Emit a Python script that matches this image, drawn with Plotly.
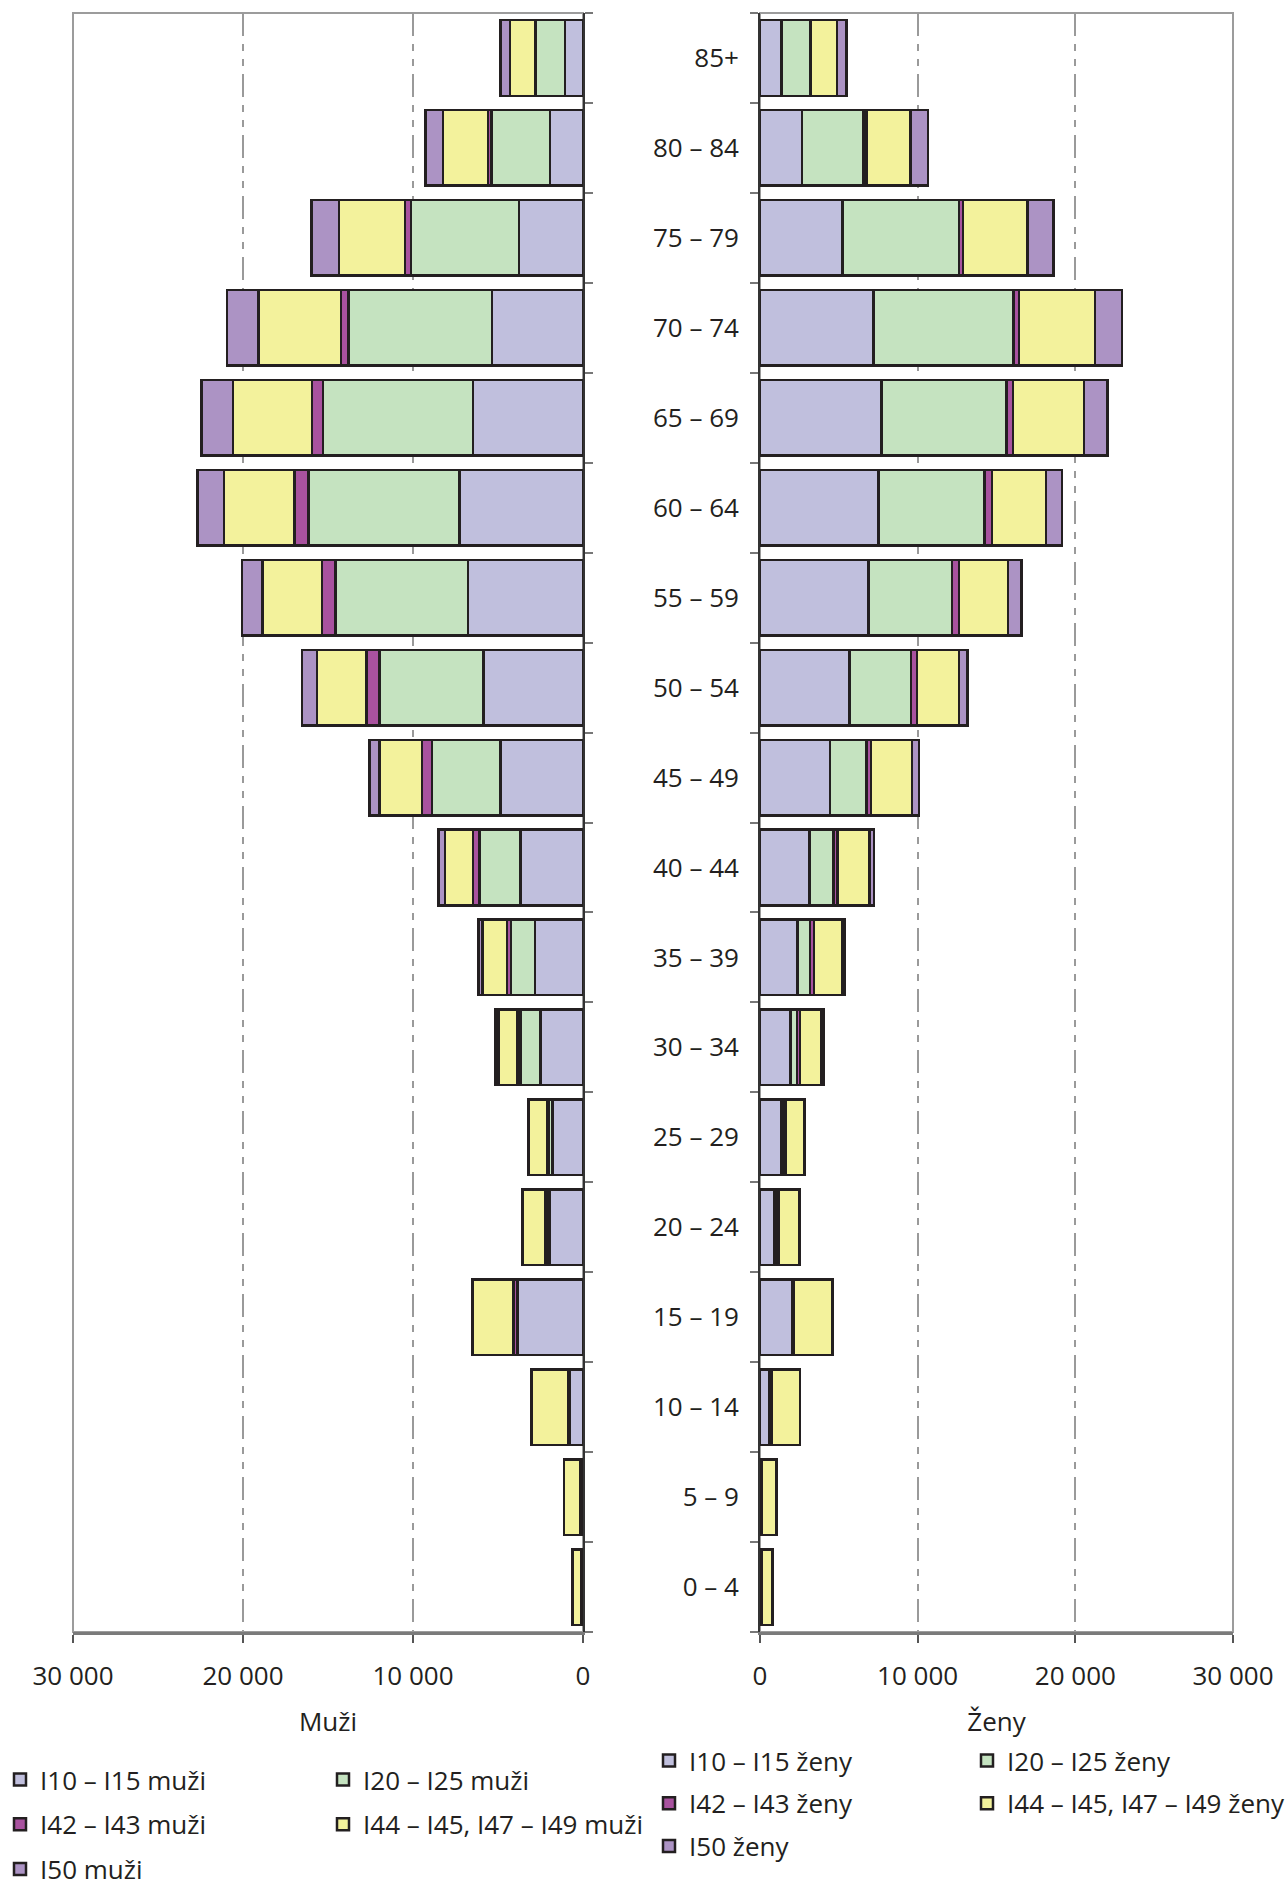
import plotly.graph_objects as go

ages = ["0 – 4", "5 – 9", "10 – 14", "15 – 19", "20 – 24", "25 – 29", "30 – 34",
        "35 – 39", "40 – 44", "45 – 49", "50 – 54", "55 – 59", "60 – 64", "65 – 69",
        "70 – 74", "75 – 79", "80 – 84", "85+"]

# Muži (men)
m_i10 = [100, 100, 800, 3860, 1980, 1790, 2490, 2820, 3690, 4850, 5840, 6760, 7260, 6470, 5360, 3760, 1950, 1060]
m_i20 = [10, 10, 20, 30, 120, 240, 1200, 1420, 2390, 4030, 6130, 7810, 8880, 8830, 8420, 6370, 3430, 1710]
m_i42 = [20, 30, 40, 200, 100, 100, 170, 220, 390, 580, 770, 770, 820, 630, 460, 340, 220, 50]
m_i44 = [500, 970, 2180, 2400, 1340, 1070, 1110, 1450, 1640, 2510, 2900, 3500, 4170, 4660, 4850, 3880, 2650, 1480]
m_i50 = [10, 10, 20, 20, 30, 50, 170, 240, 390, 600, 890, 1210, 1540, 1860, 1860, 1620, 1010, 555]

# Ženy (women)
f_i10 = [100, 100, 580, 2020, 920, 1360, 1940, 2390, 3150, 4430, 5690, 6890, 7520, 7710, 7210, 5240, 2670, 1360]
f_i20 = [10, 10, 30, 30, 100, 100, 420, 780, 1520, 2330, 3880, 5300, 6710, 7920, 8860, 7390, 3900, 1830]
f_i42 = [30, 20, 120, 100, 150, 150, 180, 240, 260, 290, 390, 420, 500, 420, 370, 260, 180, 50]
f_i44 = [650, 930, 1800, 2460, 1330, 1210, 1360, 1810, 2020, 2600, 2650, 3120, 3410, 4510, 4800, 4090, 2780, 1650]
f_i50 = [10, 10, 20, 20, 20, 20, 160, 160, 290, 420, 550, 840, 1020, 1490, 1730, 1630, 1130, 600]

tick_vals = [0, 10000, 20000, 30000]
tick_text = ["0", "10 000", "20 000", "30 000"]

groups = ["I10 – I15", "I20 – I25", "I42 – I43", "I44 – I45, I47 – I49", "I50"]
colors = ["#C0BFDD", "#C5E3C0", "#A9529F", "#F3F29C", "#AC93C4"]
men = [m_i10, m_i20, m_i42, m_i44, m_i50]
women = [f_i10, f_i20, f_i42, f_i44, f_i50]
men_legend = ["legend", "legend2", "legend", "legend2", "legend"]
women_legend = ["legend3", "legend4", "legend3", "legend4", "legend3"]

FONT = "Open Sans"
TXT = "#231F20"
EDGE = "#231F20"

fig = go.Figure()
for g, c, vals, lg in zip(groups, colors, men, men_legend):
    fig.add_trace(go.Bar(
        x=vals, y=ages, orientation="h", name=g + " muži",
        xaxis="x", yaxis="y", legend=lg, legendgroup="m" + g,
        marker=dict(color=c, line=dict(color=EDGE, width=2.5)),
    ))
for g, c, vals, lg in zip(groups, colors, women, women_legend):
    fig.add_trace(go.Bar(
        x=vals, y=ages, orientation="h", name=g + " ženy",
        xaxis="x2", yaxis="y2", legend=lg, legendgroup="f" + g,
        marker=dict(color=c, line=dict(color=EDGE, width=2.5)),
    ))

W, H = 1287, 1886
ML, MR, MT, MB = 0, 0, 13, 254
PW, PH = W - ML - MR, H - MT - MB

def px_x(p):
    return (p - ML) / PW

def px_y(p):
    return (H - MB - p) / PH

grid = dict(showgrid=True, gridcolor="#9a9a9a", gridwidth=1.5,
            griddash="23px,8px,7px,8px,7px,8px")

xcommon = dict(tickmode="array", tickvals=tick_vals, ticktext=tick_text,
               ticks="outside", ticklen=8, tickwidth=1.5, tickcolor="#555555",
               showline=True, linecolor="#7a7a7a", linewidth=2.5,
               zeroline=False, automargin=False, ticklabelstandoff=11,
               tickfont=dict(family=FONT, size=26, color=TXT),
               title_font=dict(family=FONT, size=26, color=TXT), **grid)

ycommon = dict(type="category", categoryorder="array", categoryarray=ages,
               range=[-0.5, 17.5], tickson="boundaries", ticks="outside",
               ticklen=8, tickwidth=1.5, tickcolor="#777777",
               showline=True, linecolor="#333333", linewidth=1.8,
               showgrid=False, zeroline=False, automargin=False,
               tickfont=dict(family=FONT, size=26, color=TXT))

fig.update_layout(
    width=W, height=H,
    margin=dict(l=ML, r=MR, t=MT, b=MB, autoexpand=False),
    template="none",
    paper_bgcolor="white", plot_bgcolor="white",
    barmode="stack", bargap=0.16,
    font=dict(family=FONT, size=26, color=TXT),
    xaxis=dict(domain=[px_x(73), px_x(583)], range=[30000, 0], anchor="y",
               title=dict(text="Muži", standoff=21), **xcommon),
    xaxis2=dict(domain=[px_x(760), px_x(1233)], range=[0, 30000], anchor="y2",
                title=dict(text="Ženy", standoff=21), **xcommon),
    yaxis=dict(anchor="x", side="right", showticklabels=False, **ycommon),
    yaxis2=dict(anchor="x2", side="left", showticklabels=True,
                ticklabelstandoff=14, **ycommon),
    showlegend=True,
)

leg_common = dict(orientation="v", xanchor="left", yanchor="top",
                  bgcolor="rgba(0,0,0,0)", borderwidth=0,
                  traceorder="grouped", itemclick=False, itemdoubleclick=False,
                  font=dict(family=FONT, size=26, color=TXT))
fig.update_layout(
    legend=dict(x=px_x(0), y=px_y(1756), tracegroupgap=8, **leg_common),
    legend2=dict(x=px_x(323), y=px_y(1756), tracegroupgap=8, **leg_common),
    legend3=dict(x=px_x(649), y=px_y(1737), tracegroupgap=6, **leg_common),
    legend4=dict(x=px_x(967), y=px_y(1737), tracegroupgap=6, **leg_common),
)

# grey frame around each panel
for xr, yr in (("x", "y"), ("x2", "y2")):
    fig.add_shape(type="rect", xref=xr + " domain", yref=yr + " domain",
                  x0=0, x1=1, y0=0, y1=1, layer="below",
                  line=dict(color="#9c9c9c", width=2), fillcolor="rgba(0,0,0,0)")

fig.write_html("out.html", config={"displayModeBar": False},
               post_script="document.body.style.margin='0';")
